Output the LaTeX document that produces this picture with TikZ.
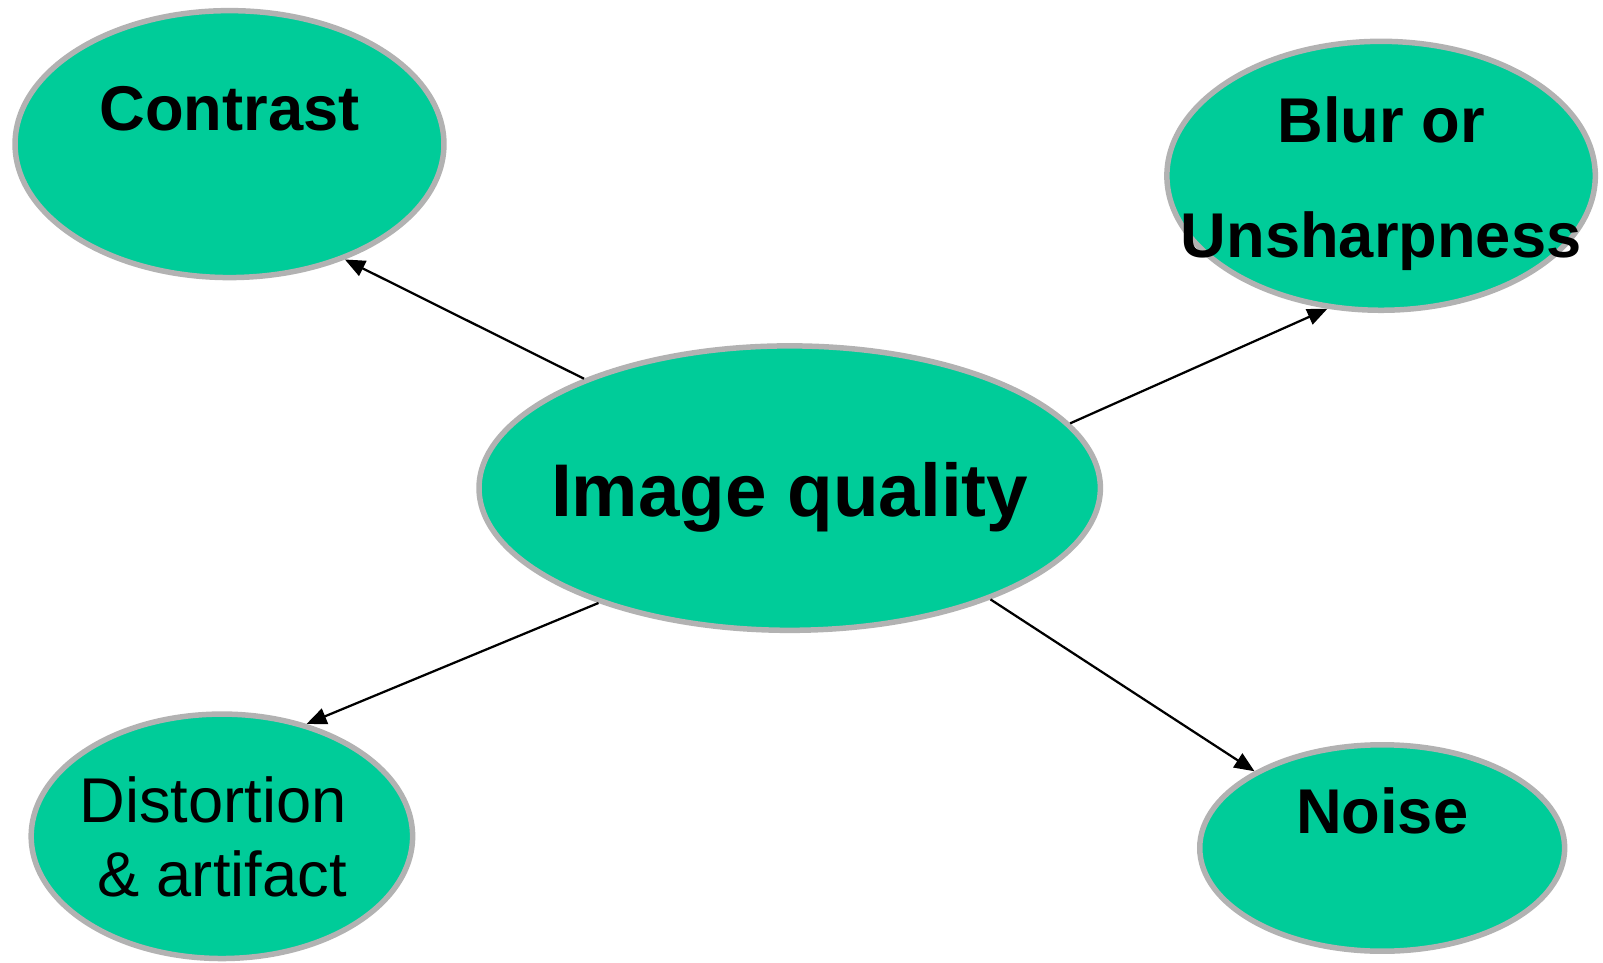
\documentclass[tikz,border=0pt]{standalone}
\usepackage{fontspec}
\setmainfont{Liberation Sans}
\usetikzlibrary{shapes.geometric,arrows.meta}

\definecolor{blobfill}{RGB}{0,204,153}
\definecolor{blobedge}{RGB}{178,178,178}

\begin{document}
\begin{tikzpicture}[
  x=0.02cm, y=-0.02cm,
  blob/.style={ellipse, draw=blobedge, fill=blobfill, line width=0.11cm,
    inner sep=0pt},
  lbl/.style={anchor=base, align=center, inner sep=0pt,
    font=\fontsize{36}{43}\selectfont\bfseries},
  ar/.style={-{Triangle[length=0.4cm, width=0.33cm]}, line width=0.045cm}
]
  \useasboundingbox (0,0) rectangle (1603,963);
  % the five ellipses
  \node[blob, minimum width=8.58cm, minimum height=5.34cm] (contrast) at (229.5,144.1) {};
  \node[blob, minimum width=8.57cm, minimum height=5.38cm] (blur) at (1381.1,175.8) {};
  \node[blob, minimum width=12.43cm, minimum height=5.69cm] (iq) at (789.7,488.1) {};
  \node[blob, minimum width=7.63cm, minimum height=4.89cm] (dist) at (221.9,836.3) {};
  \node[blob, minimum width=7.30cm, minimum height=4.13cm] (noise) at (1382.2,848) {};
  % texts (base = last line)
  \node[lbl] (contrast-t) at (229.5,130.7) {Contrast};
  \node[lbl, font=\fontsize{36}{65}\selectfont\bfseries] (blur-t) at (1381.1,257)
    {Blur or\\Unsharpness};
  \node[lbl, font=\fontsize{42.5}{50}\selectfont\bfseries] (iq-t) at (789.7,516.7)
    {Image quality};
  \node[lbl, anchor=base east, align=right, font=\fontsize{36}{42.4}\selectfont]
    (dist-t) at (347,896.7) {Distortion\\\& artifact};
  \node[lbl] (noise-t) at (1382.2,833) {Noise};
  % arrows
  \draw[ar] (iq.152.5) -- (contrast.-45);
  \draw[ar] (iq.13.1) -- (blur.248);
  \draw[ar] (iq.211.4) -- (dist.53.1);
  \draw[ar] (iq.-29.3) -- (noise.149.3);
\end{tikzpicture}
\end{document}
